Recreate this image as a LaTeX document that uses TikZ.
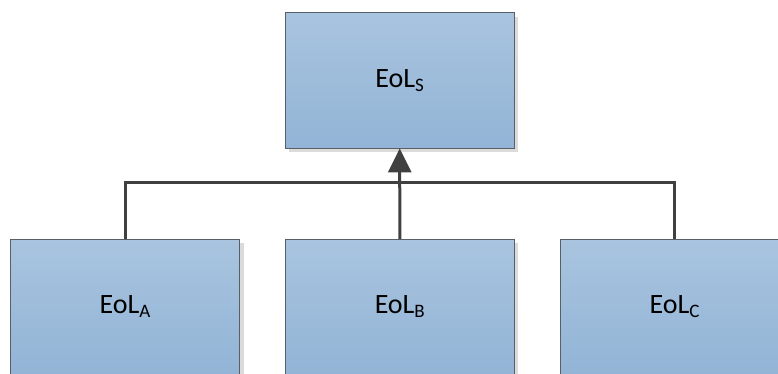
\documentclass[tikz,border=0pt]{standalone}
\usepackage{fontspec}
\setmainfont{Carlito}
\usepackage{xcolor}
\usetikzlibrary{arrows.meta}
\usetikzlibrary{shadows}

\definecolor{boxtop}{HTML}{A8C4DF}
\definecolor{boxbot}{HTML}{93B4D6}
\definecolor{boxline}{HTML}{5A5F66}
\definecolor{wire}{HTML}{404040}

\newcommand{\eol}[1]{EoL\raisebox{-4pt}{\fontsize{19}{19}\selectfont #1}}

\tikzset{
	eolbox/.style={draw=boxline, line width=0.8pt, rectangle,
		minimum width=229pt, minimum height=135.5pt,
		top color=boxtop, bottom color=boxbot,
		drop shadow={shadow xshift=4pt, shadow yshift=-4pt, fill=black!14, opacity=1},
		font=\fontsize{28}{28}\selectfont},
	wireline/.style={draw=wire, line width=3pt}
}

\begin{document}
\begin{tikzpicture}[x=1pt, y=-1pt]
	\useasboundingbox (0,0) rectangle (778,374);
	
	\node[eolbox] (s) at (399.7, 80.3) {\eol{S}};
	
	\node[eolbox] (a) at (125, 307) {\eol{A}};
	\node[eolbox] (b) at (399.8, 307) {\eol{B}};
	\node[eolbox] (c) at (674.5, 307) {\eol{C}};
	
	\coordinate (bus) at (399.8, 182.7);
	
	\draw[wireline] (a.north) |- (bus) -| (c.north);
	\draw[wireline, -{Triangle[length=24pt, width=23pt]}] (b.north) -- (s.south);
\end{tikzpicture}
\end{document}
